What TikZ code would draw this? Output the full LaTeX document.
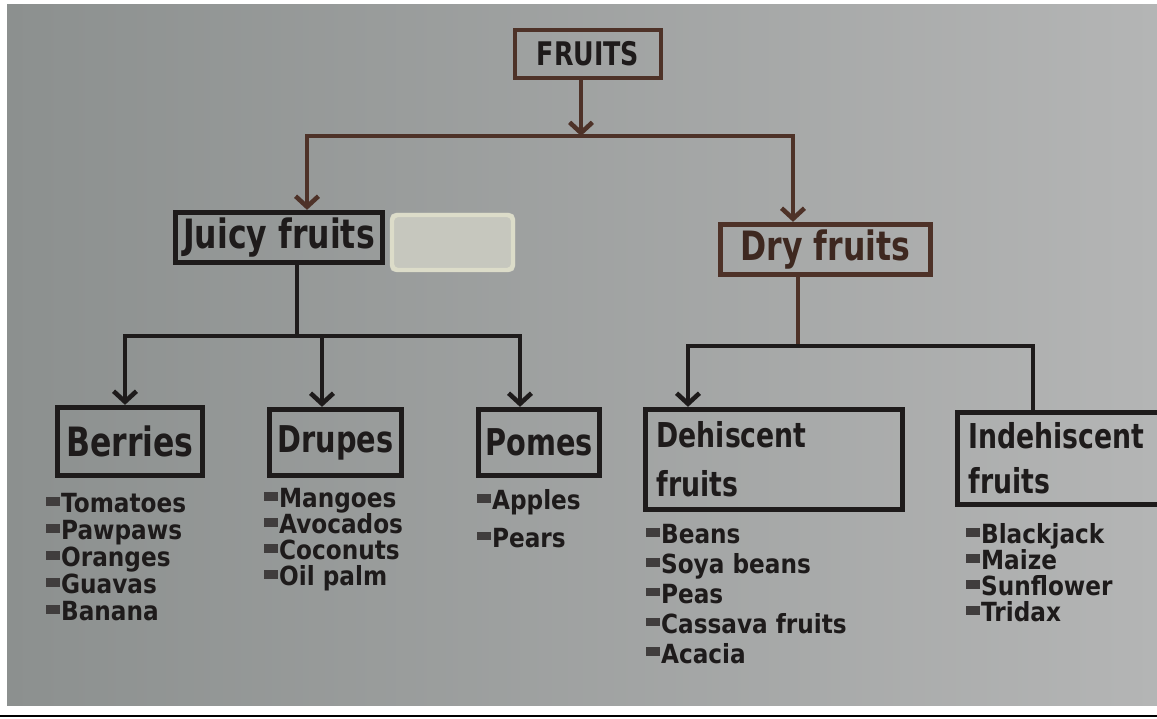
\documentclass[tikz,border=0pt]{standalone}
\usepackage{fontspec}
\usepackage{xcolor}
\usepackage{tikz}
\usetikzlibrary{arrows.meta,positioning}
\setmainfont{DejaVu Sans}
\newfontfamily\headfont[FakeStretch=0.78]{DejaVu Sans}
\newfontfamily\listfont[FakeStretch=0.88]{DejaVu Sans}
\definecolor{ink}{RGB}{30,27,27}
\definecolor{rust}{RGB}{78,50,40}
\definecolor{paperL}{RGB}{140,144,143}
\definecolor{paperR}{RGB}{180,181,181}
\definecolor{patch}{RGB}{198,199,190}
\definecolor{patchedge}{RGB}{226,226,204}
\newcommand{\blt}{{\color{ink!85}\rule[0.26em]{0.5em}{0.33em}}\hspace{0.06em}}
\tikzstyle{box} = [rectangle, draw=ink, line width=3pt, text=ink, inner sep=0pt, font=\headfont\bfseries\fontsize{23}{28}\selectfont]
\tikzstyle{twoline} = [box, align=left, inner xsep=0.22cm]
\tikzstyle{items} = [anchor=north west, align=left, inner sep=0pt, text=ink]
\tikzstyle{link} = [draw=ink, line width=2.6pt]

\begin{document}
\begin{tikzpicture}[x=0.02cm, y=-0.02cm, >={Straight Barb[length=6pt,width=13pt]}]

\useasboundingbox (0,0) rectangle (1157,719);
\fill[white] (0,0) rectangle (1157,719);
\shade[left color=paperL, right color=paperR] (7,5) rectangle (1157,705);
\draw[line width=1.2pt, black] (0,716) -- (1157,716);
\fill[patch, rounded corners=3pt] (390,213) rectangle (515,272);
\draw[patchedge, line width=2.5pt, rounded corners=3pt, opacity=0.8] (392,215) rectangle (513,270);

% boxes
\node (fruits) [box, draw=rust, line width=2.2pt, minimum width=2.92cm, minimum height=0.96cm, font=\headfont\bfseries\fontsize{18.5}{19}\selectfont] at (588,54) {FRUITS};
\node (juicy) [box, minimum width=4.14cm, minimum height=1.0cm] at (279,237.5) {Juicy fruits};
\node (dry) [box, draw=rust, text=rust!80!black, minimum width=4.2cm, minimum height=1.0cm] at (825.5,249.5) {Dry fruits};
\node (berries) [box, minimum width=2.9cm, minimum height=1.36cm, font=\headfont\bfseries\fontsize{23}{23}\selectfont] at (130,441.5) {Berries};
\node (drupes) [box, minimum width=2.64cm, minimum height=1.32cm, font=\headfont\bfseries\fontsize{21}{21}\selectfont] at (335.5,442.5) {Drupes};
\node (pomes) [box, minimum width=2.42cm, minimum height=1.32cm, font=\headfont\bfseries\fontsize{21}{21}\selectfont] at (539,442.5) {Pomes};
\node (dehisc) [twoline, text width=4.7cm, minimum height=2.0cm, font=\headfont\bfseries\fontsize{19.5}{28}\selectfont] at (774,459.5) {Dehiscent\\fruits};
\node (indehisc) [twoline, text width=3.6cm, minimum height=1.84cm, font=\headfont\bfseries\fontsize{19.5}{25.5}\selectfont] at (1058.5,458.5) {Indehiscent\\fruits};

% lists
\node (berlist) [items, font=\listfont\bfseries\fontsize{15}{15.4}\selectfont] at (46,493) {\blt Tomatoes\\\blt Pawpaws\\\blt Oranges\\\blt Guavas\\\blt Banana};
\node (drulist) [items, font=\listfont\bfseries\fontsize{15}{14.8}\selectfont] at (264,488) {\blt Mangoes\\\blt Avocados\\\blt Coconuts\\\blt Oil palm};
\node (pomlist) [items, font=\listfont\bfseries\fontsize{15}{21.6}\selectfont] at (477,489) {\blt Apples\\\blt Pears};
\node (dehlist) [items, font=\listfont\bfseries\fontsize{15}{17}\selectfont] at (646,524) {\blt Beans\\\blt Soya beans\\\blt Peas\\\blt Cassava fruits\\\blt Acacia};
\node (indlist) [items, font=\listfont\bfseries\fontsize{15}{14.8}\selectfont] at (966,523) {\blt Blackjack\\\blt Maize\\\blt Sunflower\\\blt Tridax};

% connectors
\coordinate (top) at (581,136);
\coordinate (topL) at (307,136);
\coordinate (topR) at (793,136);
\draw[link, draw=rust, ->] (fruits.south -| top) -- (top);
\draw[link, draw=rust, ->] (top) -| (topL |- juicy.north);
\draw[link, draw=rust, ->] (top) -| (topR |- dry.north);

\coordinate (jmid) at (297,336);
\coordinate (jL) at (125,336);
\coordinate (jM) at (322,336);
\coordinate (jR) at (520,336);
\draw[link] (juicy.south -| jmid) -- (jmid);
\draw[link, ->] (jM) -| (jL |- berries.north);
\draw[link, ->] (jM) -- (jM |- drupes.north);
\draw[link, ->] (jM) -| (jR |- pomes.north);

\coordinate (dmid) at (798,346);
\coordinate (dL) at (688,346);
\coordinate (dR) at (1033,346);
\draw[link, draw=rust] (dry.south -| dmid) -- (dmid);
\draw[link, ->] (dmid) -| (dL |- dehisc.north);
\draw[link] (dmid) -| (dR |- indehisc.north);

\end{tikzpicture}
\end{document}
